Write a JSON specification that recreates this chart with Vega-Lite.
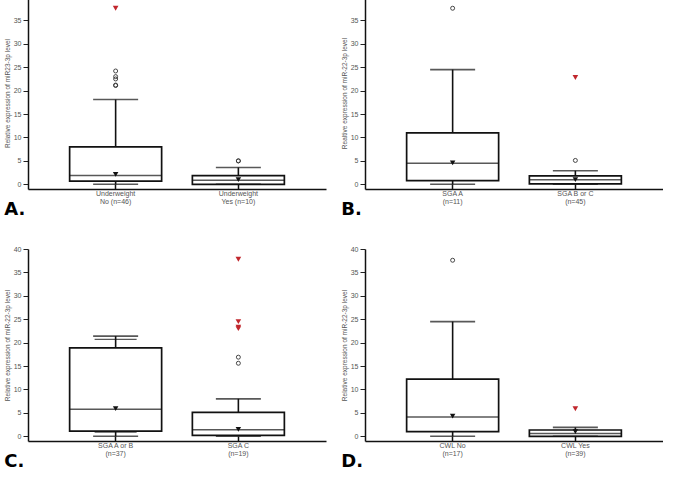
{
  "$schema": "https://vega.github.io/schema/vega-lite/v6.json",
  "padding": {"left": 4, "top": -7, "right": 0, "bottom": 0},
  "background": "white",
  "datasets": {
    "stats": [
      {"panel": "A", "group": "Underweight|No (n=46)", "lo": 0, "q1": 0.7, "med": 1.9, "q3": 8.0, "hi": 18.1, "mean": 2.1},
      {"panel": "A", "group": "Underweight|Yes (n=10)", "lo": 0, "q1": 0, "med": 0.85, "q3": 1.85, "hi": 3.6, "mean": 1.0},
      {"panel": "B", "group": "SGA A|(n=11)", "lo": 0, "q1": 0.8, "med": 4.5, "q3": 11.0, "hi": 24.5, "mean": 4.6},
      {"panel": "B", "group": "SGA B or C|(n=45)", "lo": 0, "q1": 0.1, "med": 1.0, "q3": 1.8, "hi": 2.9, "mean": 1.0},
      {"panel": "C", "group": "SGA A or B|(n=37)", "lo": 0, "q1": 1.1, "med": 5.8, "q3": 18.9, "hi": 21.4, "mean": 5.9, "lo2": 0.9, "hi2": 20.7},
      {"panel": "C", "group": "SGA C|(n=19)", "lo": 0.05, "q1": 0.2, "med": 1.4, "q3": 5.1, "hi": 8.0, "mean": 1.5},
      {"panel": "D", "group": "CWL No|(n=17)", "lo": 0, "q1": 1.0, "med": 4.1, "q3": 12.2, "hi": 24.5, "mean": 4.3},
      {"panel": "D", "group": "CWL Yes|(n=39)", "lo": 0, "q1": 0, "med": 0.6, "q3": 1.35, "hi": 1.9, "mean": 1.0}
    ],
    "points": [
      {"panel": "A", "group": "Underweight|No (n=46)", "value": 24.2, "kind": "outlier"},
      {"panel": "A", "group": "Underweight|No (n=46)", "value": 23.0, "kind": "outlier"},
      {"panel": "A", "group": "Underweight|No (n=46)", "value": 22.5, "kind": "outlier"},
      {"panel": "A", "group": "Underweight|No (n=46)", "value": 21.2, "kind": "outlier"},
      {"panel": "A", "group": "Underweight|No (n=46)", "value": 21.1, "kind": "outlier"},
      {"panel": "A", "group": "Underweight|No (n=46)", "value": 37.6, "kind": "extreme"},
      {"panel": "A", "group": "Underweight|Yes (n=10)", "value": 5.0, "kind": "outlier"},
      {"panel": "A", "group": "Underweight|Yes (n=10)", "value": 5.0, "kind": "outlier"},
      {"panel": "B", "group": "SGA A|(n=11)", "value": 37.6, "kind": "outlier"},
      {"panel": "B", "group": "SGA B or C|(n=45)", "value": 5.1, "kind": "outlier"},
      {"panel": "B", "group": "SGA B or C|(n=45)", "value": 22.8, "kind": "extreme"},
      {"panel": "C", "group": "SGA C|(n=19)", "value": 16.9, "kind": "outlier"},
      {"panel": "C", "group": "SGA C|(n=19)", "value": 15.6, "kind": "outlier"},
      {"panel": "C", "group": "SGA C|(n=19)", "value": 37.8, "kind": "extreme"},
      {"panel": "C", "group": "SGA C|(n=19)", "value": 24.5, "kind": "extreme"},
      {"panel": "C", "group": "SGA C|(n=19)", "value": 23.3, "kind": "extreme"},
      {"panel": "C", "group": "SGA C|(n=19)", "value": 23.0, "kind": "extreme"},
      {"panel": "D", "group": "CWL No|(n=17)", "value": 37.6, "kind": "outlier"},
      {"panel": "D", "group": "CWL Yes|(n=39)", "value": 5.9, "kind": "extreme"}
    ]
  },
  "vconcat": [
    {
      "hconcat": [
        {
          "width": 298, "height": 192,
          "title": {"text": "A.", "orient": "bottom", "anchor": "start", "frame": "bounds"},
          "encoding": {"x": {"field": "group", "type": "nominal", "scale": {"domain": ["Underweight|No (n=46)", "Underweight|Yes (n=10)"], "paddingInner": 0, "paddingOuter": 0.214}}},
          "layer": [
            {"data": {"name": "stats"}, "transform": [{"filter": "datum.panel == 'A'"}], "mark": {"type": "rule", "color": "#111", "strokeWidth": 1.6},
             "encoding": {"y": {"field": "lo", "type": "quantitative", "scale": {"domain": [-1, 40], "nice": false, "zero": false}, "axis": {"title": "Relative expression of miR23-3p level", "values": [0,5,10,15,20,25,30,35,40]}}, "y2": {"field": "hi"}}},
            {"data": {"name": "stats"}, "transform": [{"filter": "datum.panel == 'A'"}], "mark": {"type": "bar", "fill": "white", "stroke": "#111", "strokeWidth": 1.7, "size": 92},
             "encoding": {"y": {"field": "q1", "type": "quantitative"}, "y2": {"field": "q3"}}},
            {"data": {"name": "stats"}, "transform": [{"filter": "datum.panel == 'A'"}], "mark": {"type": "tick", "color": "#111", "size": 92, "thickness": 1.5},
             "encoding": {"y": {"field": "med", "type": "quantitative"}}},
            {"data": {"name": "stats"}, "transform": [{"filter": "datum.panel == 'A'"}], "mark": {"type": "tick", "color": "#111", "size": 45, "thickness": 1.6},
             "encoding": {"y": {"field": "lo", "type": "quantitative"}}},
            {"data": {"name": "stats"}, "transform": [{"filter": "datum.panel == 'A'"}], "mark": {"type": "tick", "color": "#111", "size": 45, "thickness": 1.6},
             "encoding": {"y": {"field": "hi", "type": "quantitative"}}},
            {"data": {"name": "stats"}, "transform": [{"filter": "datum.panel == 'A'"}], "mark": {"type": "point", "shape": "triangle-down", "filled": true, "color": "#111", "size": 30, "opacity": 1},
             "encoding": {"y": {"field": "mean", "type": "quantitative"}}},
            {"data": {"name": "points"}, "transform": [{"filter": "datum.panel == 'A' && datum.kind == 'outlier'"}], "mark": {"type": "point", "shape": "circle", "filled": false, "color": "#333", "strokeWidth": 0.9, "size": 16, "opacity": 1},
             "encoding": {"y": {"field": "value", "type": "quantitative"}}},
            {"data": {"name": "points"}, "transform": [{"filter": "datum.panel == 'A' && datum.kind == 'extreme'"}], "mark": {"type": "point", "shape": "triangle-down", "filled": true, "color": "#c1272d", "size": 32, "opacity": 1},
             "encoding": {"y": {"field": "value", "type": "quantitative"}}}
          ]
        },
        {
          "width": 298, "height": 192,
          "title": {"text": "B.", "orient": "bottom", "anchor": "start", "frame": "bounds"},
          "encoding": {"x": {"field": "group", "type": "nominal", "scale": {"domain": ["SGA A|(n=11)", "SGA B or C|(n=45)"], "paddingInner": 0, "paddingOuter": 0.214}}},
          "layer": [
            {"data": {"name": "stats"}, "transform": [{"filter": "datum.panel == 'B'"}], "mark": {"type": "rule", "color": "#111", "strokeWidth": 1.6},
             "encoding": {"y": {"field": "lo", "type": "quantitative", "scale": {"domain": [-1, 40], "nice": false, "zero": false}, "axis": {"title": "Realtive expression of miR-22-3p level", "values": [0,5,10,15,20,25,30,35,40]}}, "y2": {"field": "hi"}}},
            {"data": {"name": "stats"}, "transform": [{"filter": "datum.panel == 'B'"}], "mark": {"type": "bar", "fill": "white", "stroke": "#111", "strokeWidth": 1.7, "size": 92},
             "encoding": {"y": {"field": "q1", "type": "quantitative"}, "y2": {"field": "q3"}}},
            {"data": {"name": "stats"}, "transform": [{"filter": "datum.panel == 'B'"}], "mark": {"type": "tick", "color": "#111", "size": 92, "thickness": 1.5},
             "encoding": {"y": {"field": "med", "type": "quantitative"}}},
            {"data": {"name": "stats"}, "transform": [{"filter": "datum.panel == 'B'"}], "mark": {"type": "tick", "color": "#111", "size": 45, "thickness": 1.6},
             "encoding": {"y": {"field": "lo", "type": "quantitative"}}},
            {"data": {"name": "stats"}, "transform": [{"filter": "datum.panel == 'B'"}], "mark": {"type": "tick", "color": "#111", "size": 45, "thickness": 1.6},
             "encoding": {"y": {"field": "hi", "type": "quantitative"}}},
            {"data": {"name": "stats"}, "transform": [{"filter": "datum.panel == 'B'"}], "mark": {"type": "point", "shape": "triangle-down", "filled": true, "color": "#111", "size": 30, "opacity": 1},
             "encoding": {"y": {"field": "mean", "type": "quantitative"}}},
            {"data": {"name": "points"}, "transform": [{"filter": "datum.panel == 'B' && datum.kind == 'outlier'"}], "mark": {"type": "point", "shape": "circle", "filled": false, "color": "#333", "strokeWidth": 0.9, "size": 16, "opacity": 1},
             "encoding": {"y": {"field": "value", "type": "quantitative"}}},
            {"data": {"name": "points"}, "transform": [{"filter": "datum.panel == 'B' && datum.kind == 'extreme'"}], "mark": {"type": "point", "shape": "triangle-down", "filled": true, "color": "#c1272d", "size": 32, "opacity": 1},
             "encoding": {"y": {"field": "value", "type": "quantitative"}}}
          ]
        }
      ],
      "spacing": 39,
      "bounds": "flush"
    },
    {
      "hconcat": [
        {
          "width": 298, "height": 192,
          "title": {"text": "C.", "orient": "bottom", "anchor": "start", "frame": "bounds"},
          "encoding": {"x": {"field": "group", "type": "nominal", "scale": {"domain": ["SGA A or B|(n=37)", "SGA C|(n=19)"], "paddingInner": 0, "paddingOuter": 0.214}}},
          "layer": [
            {"data": {"name": "stats"}, "transform": [{"filter": "datum.panel == 'C'"}], "mark": {"type": "rule", "color": "#111", "strokeWidth": 1.6},
             "encoding": {"y": {"field": "lo", "type": "quantitative", "scale": {"domain": [-1, 40], "nice": false, "zero": false}, "axis": {"title": "Relative expression of miR-22-3p level", "values": [0,5,10,15,20,25,30,35,40]}}, "y2": {"field": "hi"}}},
            {"data": {"name": "stats"}, "transform": [{"filter": "datum.panel == 'C'"}], "mark": {"type": "bar", "fill": "white", "stroke": "#111", "strokeWidth": 1.7, "size": 92},
             "encoding": {"y": {"field": "q1", "type": "quantitative"}, "y2": {"field": "q3"}}},
            {"data": {"name": "stats"}, "transform": [{"filter": "datum.panel == 'C'"}], "mark": {"type": "tick", "color": "#111", "size": 92, "thickness": 1.5},
             "encoding": {"y": {"field": "med", "type": "quantitative"}}},
            {"data": {"name": "stats"}, "transform": [{"filter": "datum.panel == 'C'"}], "mark": {"type": "tick", "color": "#111", "size": 45, "thickness": 1.6},
             "encoding": {"y": {"field": "lo", "type": "quantitative"}}},
            {"data": {"name": "stats"}, "transform": [{"filter": "datum.panel == 'C'"}], "mark": {"type": "tick", "color": "#111", "size": 45, "thickness": 1.6},
             "encoding": {"y": {"field": "hi", "type": "quantitative"}}},
            {"data": {"name": "stats"}, "transform": [{"filter": "datum.panel == 'C'"}], "mark": {"type": "tick", "color": "#111", "size": 42, "thickness": 1.3},
             "encoding": {"y": {"field": "lo2", "type": "quantitative"}}},
            {"data": {"name": "stats"}, "transform": [{"filter": "datum.panel == 'C'"}], "mark": {"type": "tick", "color": "#111", "size": 42, "thickness": 1.3},
             "encoding": {"y": {"field": "hi2", "type": "quantitative"}}},
            {"data": {"name": "stats"}, "transform": [{"filter": "datum.panel == 'C'"}], "mark": {"type": "point", "shape": "triangle-down", "filled": true, "color": "#111", "size": 30, "opacity": 1},
             "encoding": {"y": {"field": "mean", "type": "quantitative"}}},
            {"data": {"name": "points"}, "transform": [{"filter": "datum.panel == 'C' && datum.kind == 'outlier'"}], "mark": {"type": "point", "shape": "circle", "filled": false, "color": "#333", "strokeWidth": 0.9, "size": 16, "opacity": 1},
             "encoding": {"y": {"field": "value", "type": "quantitative"}}},
            {"data": {"name": "points"}, "transform": [{"filter": "datum.panel == 'C' && datum.kind == 'extreme'"}], "mark": {"type": "point", "shape": "triangle-down", "filled": true, "color": "#c1272d", "size": 32, "opacity": 1},
             "encoding": {"y": {"field": "value", "type": "quantitative"}}}
          ]
        },
        {
          "width": 298, "height": 192,
          "title": {"text": "D.", "orient": "bottom", "anchor": "start", "frame": "bounds"},
          "encoding": {"x": {"field": "group", "type": "nominal", "scale": {"domain": ["CWL No|(n=17)", "CWL Yes|(n=39)"], "paddingInner": 0, "paddingOuter": 0.214}}},
          "layer": [
            {"data": {"name": "stats"}, "transform": [{"filter": "datum.panel == 'D'"}], "mark": {"type": "rule", "color": "#111", "strokeWidth": 1.6},
             "encoding": {"y": {"field": "lo", "type": "quantitative", "scale": {"domain": [-1, 40], "nice": false, "zero": false}, "axis": {"title": "Relative expression of miR-22-3p level", "values": [0,5,10,15,20,25,30,35,40]}}, "y2": {"field": "hi"}}},
            {"data": {"name": "stats"}, "transform": [{"filter": "datum.panel == 'D'"}], "mark": {"type": "bar", "fill": "white", "stroke": "#111", "strokeWidth": 1.7, "size": 92},
             "encoding": {"y": {"field": "q1", "type": "quantitative"}, "y2": {"field": "q3"}}},
            {"data": {"name": "stats"}, "transform": [{"filter": "datum.panel == 'D'"}], "mark": {"type": "tick", "color": "#111", "size": 92, "thickness": 1.5},
             "encoding": {"y": {"field": "med", "type": "quantitative"}}},
            {"data": {"name": "stats"}, "transform": [{"filter": "datum.panel == 'D'"}], "mark": {"type": "tick", "color": "#111", "size": 45, "thickness": 1.6},
             "encoding": {"y": {"field": "lo", "type": "quantitative"}}},
            {"data": {"name": "stats"}, "transform": [{"filter": "datum.panel == 'D'"}], "mark": {"type": "tick", "color": "#111", "size": 45, "thickness": 1.6},
             "encoding": {"y": {"field": "hi", "type": "quantitative"}}},
            {"data": {"name": "stats"}, "transform": [{"filter": "datum.panel == 'D'"}], "mark": {"type": "point", "shape": "triangle-down", "filled": true, "color": "#111", "size": 30, "opacity": 1},
             "encoding": {"y": {"field": "mean", "type": "quantitative"}}},
            {"data": {"name": "points"}, "transform": [{"filter": "datum.panel == 'D' && datum.kind == 'outlier'"}], "mark": {"type": "point", "shape": "circle", "filled": false, "color": "#333", "strokeWidth": 0.9, "size": 16, "opacity": 1},
             "encoding": {"y": {"field": "value", "type": "quantitative"}}},
            {"data": {"name": "points"}, "transform": [{"filter": "datum.panel == 'D' && datum.kind == 'extreme'"}], "mark": {"type": "point", "shape": "triangle-down", "filled": true, "color": "#c1272d", "size": 32, "opacity": 1},
             "encoding": {"y": {"field": "value", "type": "quantitative"}}}
          ]
        }
      ],
      "spacing": 39,
      "bounds": "flush"
    }
  ],
  "spacing": 26,
  "config": {
    "view": {"stroke": null},
    "font": "Liberation Sans",
    "axis": {"labelFont": "Liberation Sans", "titleFont": "Liberation Sans", "labelFontSize": 7, "labelColor": "#555", "titleFontSize": 6.5, "titleFontWeight": "normal", "titleColor": "#555", "domainColor": "#111", "domainWidth": 1.5, "tickColor": "#222", "grid": false},
    "axisY": {"tickSize": 5, "tickWidth": 1, "labelPadding": 2, "titlePadding": 3, "tickCount": 9, "labelOverlap": false},
    "axisX": {"title": null, "labelAngle": 0, "labelExpr": "split(datum.label, '|')", "labelLineHeight": 8, "tickSize": -5, "tickWidth": 1.5, "tickColor": "#111", "labelPadding": 5},
    "title": {"font": "DejaVu Sans", "fontSize": 18, "fontWeight": 900, "color": "#000", "offset": -3}
  }
}
